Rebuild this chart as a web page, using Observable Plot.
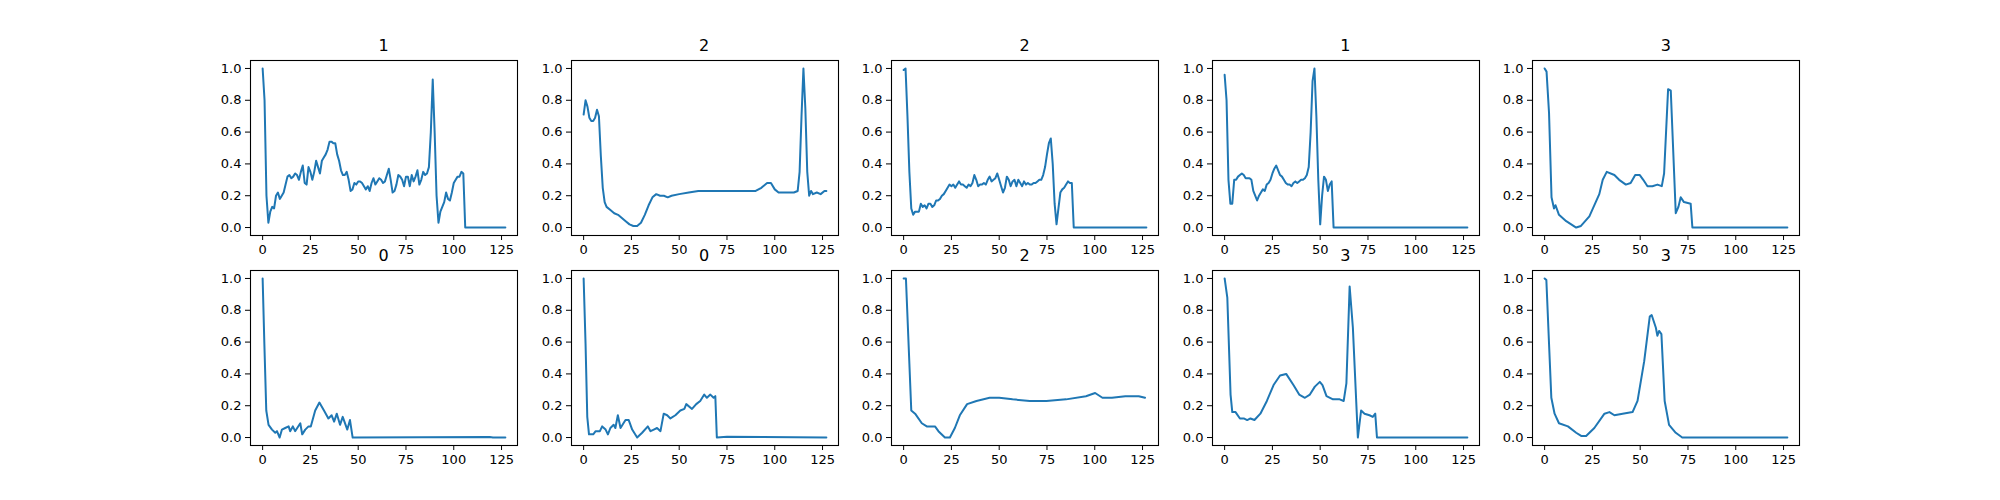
<!DOCTYPE html>
<html><head><meta charset="utf-8">
<script src="https://cdn.jsdelivr.net/npm/d3@7"></script>
<script src="https://cdn.jsdelivr.net/npm/@observablehq/plot@0.6"></script>
<style>
body{margin:0;background:#fff;font-family:"DejaVu Sans",sans-serif}
#fig{position:relative;width:2000px;height:500px}
.panel{position:absolute}
.ttl{position:absolute;width:100px;text-align:center;font-size:16px;line-height:20px;z-index:2}
</style></head>
<body><div id="fig"></div>
<script>
// panel titles (class labels)
const titles = ["1", "2", "2", "1", "3", "0", "0", "2", "3", "3"];

// beat 1
const y1 = [1.0,0.8,0.2,0.03,0.1,0.13,0.12,0.2,0.22,0.18,0.2,0.22,0.27,0.32,0.33,0.31,0.32,0.34,0.33,0.3,
  0.35,0.39,0.28,0.27,0.38,0.35,0.3,0.35,0.42,0.38,0.34,0.42,0.44,0.46,0.49,0.54,0.54,0.53,0.53,0.46,
  0.42,0.36,0.33,0.33,0.35,0.3,0.23,0.24,0.28,0.27,0.29,0.29,0.28,0.26,0.24,0.26,0.23,0.28,0.31,0.27,
  0.29,0.31,0.3,0.28,0.29,0.33,0.37,0.3,0.22,0.23,0.27,0.33,0.32,0.3,0.26,0.32,0.32,0.26,0.33,0.29,
  0.32,0.36,0.27,0.3,0.35,0.33,0.34,0.38,0.6,0.93,0.6,0.2,0.03,0.1,0.13,0.16,0.22,0.18,0.17,0.22,
  0.28,0.3,0.32,0.32,0.35,0.34,0.0,0.0];
const x1 = [...y1.keys()].slice(0, 107).concat([127]);

// beat 2
const x2 = [0,1,2,3,4,5,6,7,8,9,10,11,12,14,16,18,20,22,24,26,28,30,32,34,36,38,40,42,44,46,50,55,60,70,80,90,93,96,98,100,102,106,110,112,113,114,115,116,117,118,119,120,122,124,126,127];
const y2 = [0.71,0.8,0.76,0.69,0.67,0.67,0.69,0.74,0.7,0.45,0.25,0.16,0.13,0.11,0.09,0.08,0.06,0.04,0.02,0.01,0.01,0.03,0.08,0.14,0.19,0.21,0.2,0.2,0.19,0.2,0.21,0.22,0.23,0.23,0.23,0.23,0.25,0.28,0.28,0.24,0.22,0.22,0.22,0.23,0.35,0.7,1.0,0.75,0.35,0.2,0.23,0.21,0.22,0.21,0.23,0.23];

// beat 3
const y3 = [0.99,1.0,0.7,0.35,0.12,0.08,0.1,0.1,0.1,0.15,0.13,0.14,0.12,0.15,0.15,0.13,0.14,0.17,0.17,0.18,
  0.2,0.21,0.23,0.25,0.27,0.26,0.27,0.25,0.27,0.29,0.27,0.27,0.26,0.25,0.27,0.26,0.28,0.33,0.3,0.26,
  0.27,0.27,0.28,0.27,0.3,0.32,0.29,0.3,0.31,0.34,0.3,0.26,0.22,0.25,0.32,0.3,0.26,0.29,0.3,0.26,
  0.3,0.28,0.26,0.29,0.27,0.28,0.27,0.27,0.28,0.28,0.29,0.3,0.3,0.33,0.38,0.46,0.53,0.56,0.4,0.15,
  0.02,0.12,0.22,0.24,0.25,0.27,0.29,0.28,0.28,0.0,0.0];
const x3 = [...y3.keys()].slice(0, 90).concat([127]);

// beat 4
const y4 = [0.96,0.8,0.3,0.15,0.15,0.3,0.3,0.32,0.33,0.34,0.33,0.31,0.31,0.31,0.3,0.23,0.2,0.17,0.2,0.22,
  0.24,0.23,0.27,0.28,0.3,0.34,0.37,0.39,0.36,0.33,0.32,0.3,0.28,0.27,0.27,0.26,0.28,0.29,0.28,0.29,
  0.3,0.3,0.31,0.33,0.38,0.6,0.92,1.0,0.7,0.3,0.02,0.2,0.32,0.3,0.23,0.27,0.29,0.0,0.0];
const x4 = [...y4.keys()].slice(0, 58).concat([127]);

// beat 5
const x5 = [0,1,2.3,3.6,4.9,5.7,7.5,11.3,16.5,19,23.4,28.6,30.4,32.5,36.5,39,42.5,45,47.4,49.8,51.6,53.8,56.4,59,61.3,62.5,64.6,66,68.6,70,71.2,72.9,76.4,77.3,127];
const y5 = [1.0,0.98,0.72,0.19,0.12,0.14,0.08,0.04,0.0,0.01,0.07,0.21,0.3,0.35,0.33,0.3,0.27,0.28,0.33,0.33,0.3,0.26,0.26,0.27,0.26,0.34,0.87,0.86,0.09,0.13,0.19,0.16,0.15,0.0,0.0];

// beat 6
const x6 = [0,0.9,1.9,3.1,4.9,6.6,7.5,8.9,10.1,11.8,13.6,14.4,15.8,17,19.7,20.7,22.3,24,25.2,27.5,29.7,32.1,34.4,36.1,37.4,38.8,40.5,41.9,44.3,45.7,47.1,118.8,120.5,127];
const y6 = [1.0,0.59,0.17,0.08,0.05,0.03,0.04,0.0,0.05,0.06,0.07,0.04,0.07,0.04,0.09,0.02,0.05,0.07,0.07,0.17,0.22,0.17,0.12,0.14,0.1,0.15,0.08,0.13,0.05,0.11,0.0,0.004,0.0,0.0];

// beat 7
const x7 = [0,1,1.9,2.8,5,6.3,8.5,9.7,11.5,12.7,14,15.7,16.6,17.9,19.3,21.9,23.6,25.4,28,30.6,33.6,35,36.7,38.4,40.2,41.9,43.7,45.4,48,50.6,52.7,53.7,56.7,58.9,61,63.1,64.5,66.3,68,68.9,69.7,75,127];
const y7 = [1.0,0.59,0.13,0.02,0.02,0.04,0.04,0.07,0.05,0.02,0.06,0.08,0.06,0.14,0.06,0.11,0.11,0.05,0.0,0.03,0.07,0.04,0.05,0.06,0.04,0.15,0.14,0.12,0.14,0.17,0.18,0.21,0.18,0.21,0.23,0.27,0.25,0.27,0.25,0.26,0.0,0.005,0.0];

// beat 8
const x8 = [0,1.2,4,6,9.5,12.1,16.4,18.2,21.6,24.2,26.8,29.4,33.2,38.1,45,50,57,66,74.7,85,95.4,100.2,104,109,116,123,126.3];
const y8 = [1.0,1.0,0.17,0.15,0.09,0.07,0.07,0.04,0.0,0.0,0.06,0.14,0.21,0.23,0.25,0.25,0.24,0.23,0.23,0.24,0.26,0.28,0.25,0.25,0.26,0.26,0.25];

// beat 9
const x9 = [0,1.4,3.1,4,5.7,8,10,11.8,13.5,15.6,18.7,22.1,25.6,29,32.2,36,39,42,44.6,47.2,49.8,51.2,53.3,56.7,60.2,62.3,63.7,65.4,67.1,69.7,71.4,73.2,75.8,77.5,78.8,79.7,127];
const y9 = [1.0,0.88,0.27,0.16,0.16,0.12,0.12,0.11,0.12,0.11,0.15,0.23,0.33,0.39,0.4,0.33,0.27,0.25,0.27,0.32,0.35,0.33,0.26,0.24,0.24,0.23,0.34,0.95,0.69,0.0,0.17,0.15,0.14,0.13,0.15,0.0,0.0];

// beat 10
const x10 = [0,0.9,2.3,3.5,5.2,7.5,12.2,16.5,19.1,21.7,26,31.3,33.9,36.5,40.8,46,48.6,52.1,55,56,58.2,59,59.9,61.1,62.8,65.1,68.6,72,127];
const y10 = [1.0,0.99,0.59,0.25,0.15,0.09,0.07,0.03,0.01,0.01,0.06,0.15,0.16,0.14,0.15,0.16,0.23,0.48,0.76,0.77,0.69,0.64,0.67,0.65,0.23,0.08,0.03,0.0,0.0];

const xs = [x1, x2, x3, x4, x5, x6, x7, x8, x9, x10];
const ys = [y1, y2, y3, y4, y5, y6, y7, y8, y9, y10];

const fig = document.getElementById("fig");
const W = 267, H = 175, ml = 45, mr = 5, mt = 5, mb = 30;

for (let i = 0; i < 10; i++) {
  const col = i % 5, row = Math.floor(i / 5);
  const left = 250 + col * 320.6, top = row === 0 ? 60 : 270;
  const data = xs[i].map((x, j) => ({x, y: ys[i][j]}));
  const plot = Plot.plot({
    width: W + ml + mr, height: H + mt + mb,
    marginLeft: ml, marginRight: mr, marginTop: mt, marginBottom: mb,
    style: {fontFamily: "DejaVu Sans", fontSize: "13px", color: "#000", background: "transparent"},
    x: {domain: [-6.35, 133.35], ticks: [0, 25, 50, 75, 100, 125], label: null},
    y: {domain: [-0.05, 1.05], ticks: [0, 0.2, 0.4, 0.6, 0.8, 1.0], tickFormat: ".1f", label: null},
    marks: [
      Plot.axisX({ticks: [0, 25, 50, 75, 100, 125], tickSize: 5, tickPadding: 4, label: null}),
      Plot.axisY({ticks: [0, 0.2, 0.4, 0.6, 0.8, 1.0], tickFormat: ".1f", tickSize: 5, tickPadding: 4, label: null}),
      Plot.line(data, {x: "x", y: "y", stroke: "#1f77b4", strokeWidth: 2}),
      Plot.frame({stroke: "#000", strokeWidth: 1.1})
    ]
  });
  plot.classList.add("panel");
  plot.style.left = (left - ml) + "px";
  plot.style.top = (top - mt) + "px";
  fig.appendChild(plot);

  const t = document.createElement("div");
  t.className = "ttl";
  t.textContent = titles[i];
  t.style.left = (left + W / 2 - 50) + "px";
  t.style.top = (top - 24) + "px";
  fig.appendChild(t);
}
</script></body></html>
